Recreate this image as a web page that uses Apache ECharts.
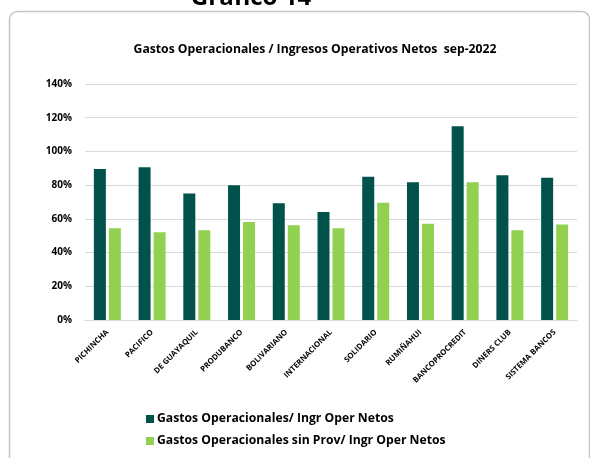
<!DOCTYPE html>
<html><head><meta charset="utf-8">
<script src="https://cdn.jsdelivr.net/npm/echarts@6/dist/echarts.min.js"></script>
<style>html,body{margin:0;padding:0;background:#fff}#c{width:590px;height:458px}</style>
</head><body><div id="c"></div>
<script>
const categories = ['PICHINCHA','PACIFICO','DE GUAYAQUIL','PRODUBANCO','BOLIVARIANO','INTERNACIONAL','SOLIDARIO','RUMIÑAHUI','BANCOPROCREDIT','DINERS CLUB','SISTEMA BANCOS'];
const seriesNames = ['Gastos Operacionales/ Ingr Oper Netos','Gastos Operacionales sin Prov/ Ingr Oper Netos'];
const gastosOper = [89.6, 90.6, 75.1, 80.0, 69.2, 64.0, 85.0, 81.7, 115.0, 85.8, 84.4];
const gastosSinProv = [54.4, 52.0, 53.2, 58.1, 56.2, 54.4, 69.6, 57.1, 81.7, 53.2, 56.7];
const yTicks = {min: 0, max: 140, interval: 20};
const chartTitle = 'Gastos Operacionales / Ingresos Operativos Netos  sep-2022';
const headerText = 'Gráfico 14';

const FONT = '"Open Sans", sans-serif';
const chart = echarts.init(document.getElementById('c'), null, {renderer: 'canvas'});
chart.setOption({
  backgroundColor: '#fff',
  animation: false,
  graphic: [
    {type: 'rect', z: -1, shape: {x: 9.5, y: 11.5, width: 580, height: 500, r: 8}, style: {fill: '#fff', stroke: '#c4c4c4', lineWidth: 1.5}},
    {type: 'text', x: 251, y: 10, style: {text: headerText, font: 'bold 24px "Open Sans", sans-serif', fill: '#000', align: 'center', verticalAlign: 'bottom'}}
  ],
  title: {
    text: chartTitle, left: 310, top: 39, textAlign: 'center',
    textStyle: {fontFamily: FONT, fontSize: 12.2, fontWeight: 'bold', color: '#000'}
  },
  legend: {
    orient: 'vertical', left: 141, top: 408, itemWidth: 8, itemHeight: 8, itemGap: 10,
    icon: 'rect',
    textStyle: {fontFamily: FONT, fontSize: 12.2, fontWeight: 'bold', color: '#000', padding: [0, 0, 0, -2]}
  },
  grid: {left: 85, right: 13, top: 84, bottom: 138},
  xAxis: {
    type: 'category', data: categories,
    axisLine: {lineStyle: {color: '#d9d9d9'}},
    axisTick: {show: false},
    axisLabel: {rotate: 45, interval: 0, fontFamily: FONT, fontSize: 7.8, fontWeight: 'bold', color: '#000', margin: 11}
  },
  yAxis: {
    type: 'value', min: yTicks.min, max: yTicks.max, interval: yTicks.interval,
    axisLabel: {formatter: '{value}%', fontFamily: FONT, fontSize: 10, fontWeight: 'bold', color: '#000', margin: 13},
    splitLine: {lineStyle: {color: '#d9d9d9'}},
    axisLine: {show: false}, axisTick: {show: false}
  },
  series: [
    {name: seriesNames[0], type: 'bar', data: gastosOper, barWidth: 12, barGap: '25%', itemStyle: {color: '#00524A'}},
    {name: seriesNames[1], type: 'bar', data: gastosSinProv, barWidth: 12, itemStyle: {color: '#92D050'}}
  ]
});
</script></body></html>
